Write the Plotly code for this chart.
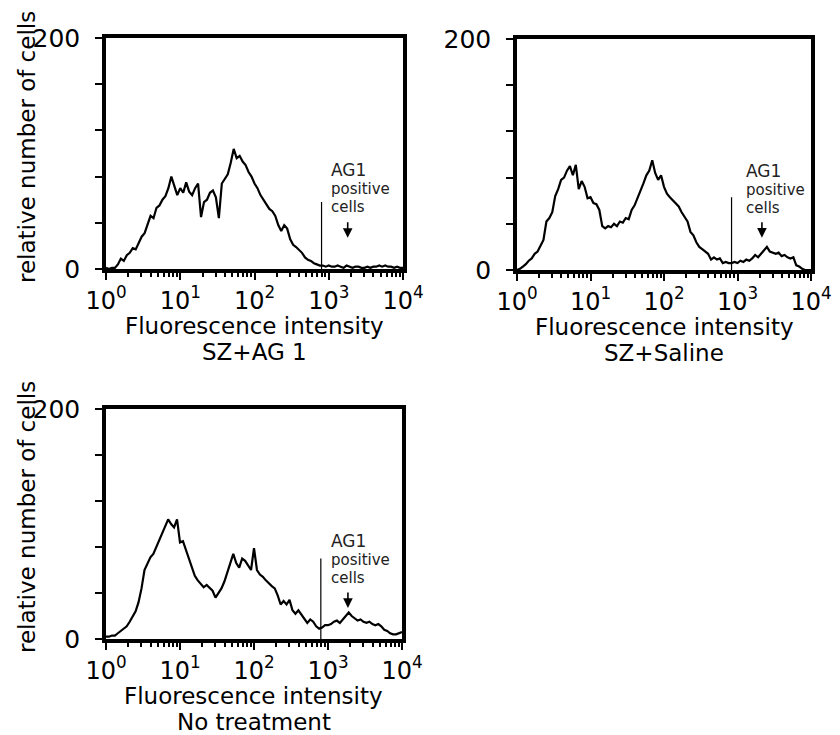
import numpy as np
import plotly.graph_objects as go

# ---- data -----------------------------------------------------------------
# histogram channels, log10 of fluorescence intensity (0 .. 4, step 0.04)
log_intensity = [round(0.04 * i, 2) for i in range(101)]

counts_sz_ag1 = [
    1, 0, 1, 1, 4, 9, 7, 12, 14, 18, 17, 23, 28, 31, 38, 46, 44, 53, 55, 60,
    63, 70, 80, 72, 64, 70, 66, 75, 67, 64, 70, 74, 45, 58, 60, 66, 68, 62, 44, 74,
    78, 82, 92, 104, 96, 98, 93, 90, 84, 80, 74, 70, 64, 60, 57, 52, 50, 46, 38, 33,
    38, 35, 26, 21, 19, 16, 14, 10, 8, 7, 5, 4, 3, 3, 2, 3, 2, 2, 3, 2,
    1, 3, 2, 1, 2, 2, 1, 1, 2, 1, 2, 2, 3, 2, 3, 2, 2, 1, 2, 1, 1,
]

counts_sz_saline = [
    0, 1, 3, 5, 8, 10, 14, 16, 21, 26, 42, 45, 50, 64, 70, 78, 80, 86, 90, 82,
    91, 70, 77, 72, 62, 63, 58, 57, 52, 38, 36, 38, 37, 40, 38, 42, 41, 45, 44, 52,
    56, 62, 68, 75, 82, 86, 95, 84, 78, 82, 72, 66, 63, 60, 58, 55, 50, 46, 42, 33,
    30, 24, 20, 18, 16, 14, 9, 11, 9, 10, 6, 7, 6, 6, 7, 6, 8, 7, 9, 8,
    10, 13, 11, 14, 16, 20, 16, 15, 14, 15, 12, 13, 11, 10, 11, 4, 3, 1, 0, 0, 0,
]

counts_no_treatment = [
    2, 2, 3, 3, 5, 7, 9, 11, 15, 19, 24, 32, 44, 60, 66, 71, 74, 80, 86, 92,
    98, 104, 100, 97, 104, 84, 85, 77, 70, 62, 55, 51, 48, 45, 47, 44, 42, 36, 40, 44,
    50, 58, 64, 74, 66, 62, 70, 68, 64, 60, 79, 60, 56, 54, 51, 48, 46, 44, 38, 30,
    33, 30, 34, 25, 22, 25, 21, 18, 14, 17, 15, 11, 9, 10, 12, 12, 13, 15, 16, 14,
    17, 19, 23, 20, 18, 16, 17, 15, 14, 15, 13, 12, 13, 11, 8, 7, 5, 4, 4, 5, 6,
]

panel_captions = ["SZ+AG 1", "SZ+Saline", "No treatment"]
gate_position = [800, 830, 800]        # gate marker intensity
gate_height = [58, 63, 70]             # gate marker height (cells)
arrow_position = [1800, 2150, 1860]    # "AG1 positive cells" arrow intensity
arrow_tip = [27, 28, 27]               # arrow tip height (cells)

y_ticks = [0, 40, 80, 120, 160, 200]
y_ticktext = ["0", "", "", "", "", "200"]
x_major = [1, 10, 100, 1000, 10000]
x_ticktext = ["10<sup>0</sup>", "10<sup>1</sup>", "10<sup>2</sup>",
              "10<sup>3</sup>", "10<sup>4</sup>"]
x_minor = [m * d for d in (1, 10, 100, 1000) for m in range(2, 10)]

# ---- layout helpers ---------------------------------------------------------
W, H = 840, 735
FONT = "DejaVu Sans"


def px(x):
    return x / W


def py(y):
    return 1 - y / H


# plot boxes in pixels: (left, right, top, bottom)
boxes = [(106, 403, 38, 269), (517, 811, 39, 270), (106, 402, 409, 639)]

intensity = [10 ** v for v in log_intensity]
series = [counts_sz_ag1, counts_sz_saline, counts_no_treatment]

fig = go.Figure()
annotations = []


def label(text, x, y, size, color="black", xanchor="center", angle=0):
    annotations.append(dict(text=text, x=px(x), y=py(y), xref="paper", yref="paper",
                            xanchor=xanchor, yanchor="middle", showarrow=False,
                            textangle=angle, font=dict(family=FONT, size=size, color=color)))


for i, (box, counts) in enumerate(zip(boxes, series)):
    left, right, top, bottom = box
    n = "" if i == 0 else str(i + 1)
    xa, ya = "x" + n, "y" + n

    fig.add_trace(go.Scatter(
        x=intensity, y=counts, mode="lines", line=dict(color="black", width=2.2),
        xaxis=xa, yaxis=ya, showlegend=False, hoverinfo="skip",
    ))
    # gate marker
    fig.add_trace(go.Scatter(
        x=[gate_position[i], gate_position[i]], y=[0, gate_height[i]], mode="lines",
        line=dict(color="black", width=1.2), xaxis=xa, yaxis=ya,
        showlegend=False, hoverinfo="skip",
    ))

    axis_common = dict(
        showline=True, linecolor="black", linewidth=3.5, mirror=True, automargin=False,
        ticks="outside", tickcolor="black", tickwidth=2, showgrid=False, zeroline=False,
    )
    fig.update_layout({
        "xaxis" + n: dict(
            axis_common, type="log", range=[0, 4], domain=[px(left), px(right)],
            anchor=ya, tickmode="array", tickvals=x_major, ticktext=x_ticktext,
            ticklen=7, ticklabelstandoff=0,
            tickfont=dict(family=FONT, size=24, color="black"),
            minor=dict(tickmode="array", tickvals=x_minor, ticks="outside",
                       ticklen=4, tickwidth=1.5, tickcolor="black", showgrid=False),
        ),
        "yaxis" + n: dict(
            axis_common, range=[0, 200], domain=[py(bottom), py(top)], anchor=xa,
            tickmode="array", tickvals=y_ticks, ticktext=y_ticktext, ticklen=7,
            ticklabelstandoff=10,
            tickfont=dict(family=FONT, size=25, color="black"),
        ),
    })

    cx = (left + right) / 2
    label("Fluorescence intensity", cx, bottom + 57, 23)
    label(panel_captions[i], cx, bottom + 83, 23)

    # "AG1 positive cells" label and arrow
    tx = left + (223 if i != 1 else 227)
    ty = top + 132
    for dy, txt, size in ((0, "AG1", 17), (19, "positive", 15), (37, "cells", 15)):
        label(txt, tx, ty + dy, size, color="#222", xanchor="left")
    annotations.append(dict(x=np.log10(arrow_position[i]), y=arrow_tip[i], xref=xa, yref=ya,
                            ax=0, ay=-17, showarrow=True, arrowhead=2, arrowsize=1.2,
                            arrowwidth=1.6, arrowcolor="black", text=""))

# y-axis titles
for yc in (147, 517):
    label("relative number of cells", 27, yc, 23, angle=-90)

fig.update_layout(
    width=W, height=H, margin=dict(l=0, r=0, t=0, b=0, autoexpand=False),
    paper_bgcolor="white", plot_bgcolor="white",
    annotations=annotations, showlegend=False,
)

fig.write_html("out.html")
